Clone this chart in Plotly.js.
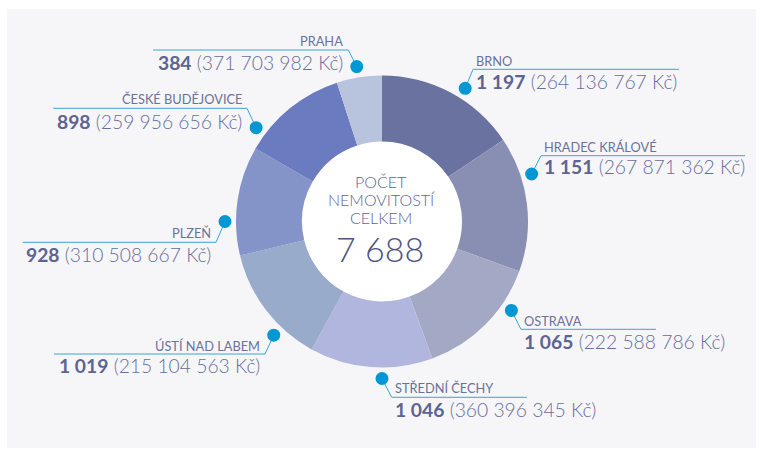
<!DOCTYPE html>
<html>
<head>
<meta charset="utf-8">
<script src="https://cdn.plot.ly/plotly-3.0.1.min.js"></script>
<style>html,body{margin:0;padding:0;background:#fff;}#chart{width:762px;height:451px;}</style>
</head>
<body>
<div id="chart"></div>
<script>
// ---- data ----
const regions = ["BRNO", "HRADEC KRÁLOVÉ", "OSTRAVA", "STŘEDNÍ ČECHY", "ÚSTÍ NAD LABEM", "PLZEŇ", "ČESKÉ BUDĚJOVICE", "PRAHA"];
const counts = [1197, 1151, 1065, 1046, 1019, 928, 898, 384];
const amounts = ["264 136 767", "267 871 362", "222 588 786", "360 396 345", "215 104 563", "310 508 667", "259 956 656", "371 703 982"];
const centerTitle = ["POČET", "NEMOVITOSTÍ", "CELKEM"];
const currency = "Kč";

// ---- style / layout ----
const sliceColors = ["#6a72a0", "#888fb3", "#a3a8c5", "#b0b6dd", "#98abcb", "#8594c8", "#6a7bbf", "#b8c3dd"];
const W = 762, H = 451;
const cx = 382, cy = 221.5, R = 146, holeR = 80;
const dotDist = 157, dotR = 6.5;
const lineColor = "#35a6da", dotColor = "#0098d4";
const nameColor = "#6b7199", numColor = "#5c6492", parenColor = "#686e9c";
const FONT = "Lato, 'Open Sans', sans-serif";
// per-label placement: side, dot angle (deg clockwise from 12 o'clock), corner of leader, far end of rule, name baseline, value baseline
const place = [
  {side: "r", ang: 32,    cx: 473,   cy: 69.3,  end: 679,  nb: 65,    vb: 88.3},
  {side: "r", ang: 72.4,  cx: 541,   cy: 155.7, end: 745,  nb: 151,   vb: 173.3},
  {side: "r", ang: 124.5, cx: 521,   cy: 329.3, end: 656,  nb: 325,   vb: 348.3},
  {side: "r", ang: 180,   cx: 391.7, cy: 397.3, end: 527,  nb: 392.7, vb: 416},
  {side: "l", ang: 223.6, cx: 265,   cy: 354,   end: 54,   nb: 350,   vb: 372.7},
  {side: "l", ang: 270,   cx: 216,   cy: 242.3, end: 22.7, nb: 237.7, vb: 261},
  {side: "l", ang: 306.7, cx: 247,   cy: 108.3, end: 53.3, nb: 104,   vb: 128.3},
  {side: "l", ang: 350.75,cx: 348.3, cy: 50,    end: 153,  nb: 45.7,  vb: 69}
];

function px(x){ return x / W; }
function py(y){ return 1 - y / H; }
function fmt(n){ return String(n).replace(/\B(?=(\d{3})+(?!\d))/g, " "); }

const total = counts.reduce((a, b) => a + b, 0);

const shapes = [];
const annotations = [];
// background panel
shapes.push({type: "rect", xref: "paper", yref: "paper", x0: px(7), x1: px(756), y0: py(448), y1: py(9),
  fillcolor: "#f6f6f9", line: {width: 0}, layer: "below"});
// white hole
shapes.push({type: "circle", xref: "paper", yref: "paper", x0: px(cx - holeR - 1), x1: px(cx + holeR + 1),
  y0: py(cy + holeR + 1), y1: py(cy - holeR - 1), fillcolor: "#ffffff", line: {width: 0}, layer: "below"});

regions.forEach((name, i) => {
  const p = place[i];
  const a = p.ang * Math.PI / 180;
  const dx = cx + dotDist * Math.sin(a), dy = cy - dotDist * Math.cos(a);
  // leader
  shapes.push({type: "line", xref: "paper", yref: "paper", x0: px(dx), y0: py(dy), x1: px(p.cx), y1: py(p.cy),
    line: {color: lineColor, width: 1}});
  // rule
  shapes.push({type: "line", xref: "paper", yref: "paper", x0: px(p.cx), y0: py(p.cy), x1: px(p.end), y1: py(p.cy),
    line: {color: lineColor, width: 1}});
  // dot
  shapes.push({type: "circle", xref: "paper", yref: "paper", x0: px(dx - dotR), x1: px(dx + dotR),
    y0: py(dy + dotR), y1: py(dy - dotR), fillcolor: dotColor, line: {width: 0}});
  const right = p.side === "r";
  const tx = right ? p.cx + 2 : p.cx - 4;
  annotations.push({xref: "paper", yref: "paper", x: px(tx), y: py(p.nb - 4.5), xanchor: right ? "left" : "right",
    yanchor: "middle", showarrow: false, borderpad: 0, text: name,
    font: {family: FONT, size: 12.8, color: nameColor, weight: 400}});
  annotations.push({xref: "paper", yref: "paper", x: px(tx), y: py(p.vb - 6.8), xanchor: right ? "left" : "right",
    yanchor: "middle", showarrow: false, borderpad: 0,
    text: "<b><span style='color:" + numColor + "'>" + fmt(counts[i]) + "</span></b> (" + amounts[i] + " " + currency + ")",
    font: {family: FONT, size: 19.3, color: parenColor, weight: 300}});
});

// center texts
const centerBase = [186.7, 205, 223.3];
centerTitle.forEach((t, k) => {
  annotations.push({xref: "paper", yref: "paper", x: px(381), y: py(centerBase[k] - 5.6), xanchor: "center", yanchor: "middle",
    showarrow: false, borderpad: 0, text: t, font: {family: FONT, size: 16, color: "#5f6592", weight: 300}});
});
annotations.push({xref: "paper", yref: "paper", x: px(380), y: py(260.7 - 12), xanchor: "center", yanchor: "middle",
  showarrow: false, borderpad: 0, text: fmt(total), font: {family: FONT, size: 34, color: "#4d5380", weight: 300}});

const trace = {
  type: "pie",
  values: counts,
  labels: regions,
  sort: false,
  direction: "clockwise",
  rotation: 0,
  hole: holeR / R,
  textinfo: "none",
  hoverinfo: "none",
  showlegend: false,
  marker: {colors: sliceColors, line: {width: 0}},
  domain: {x: [px(cx - R), px(cx + R)], y: [py(cy + R), py(cy - R)]}
};

const layout = {
  width: W, height: H,
  margin: {l: 0, r: 0, t: 0, b: 0},
  paper_bgcolor: "#ffffff",
  plot_bgcolor: "rgba(0,0,0,0)",
  shapes: shapes,
  annotations: annotations,
  showlegend: false
};

Plotly.newPlot("chart", [trace], layout, {displayModeBar: false, staticPlot: true});
</script>
</body>
</html>
